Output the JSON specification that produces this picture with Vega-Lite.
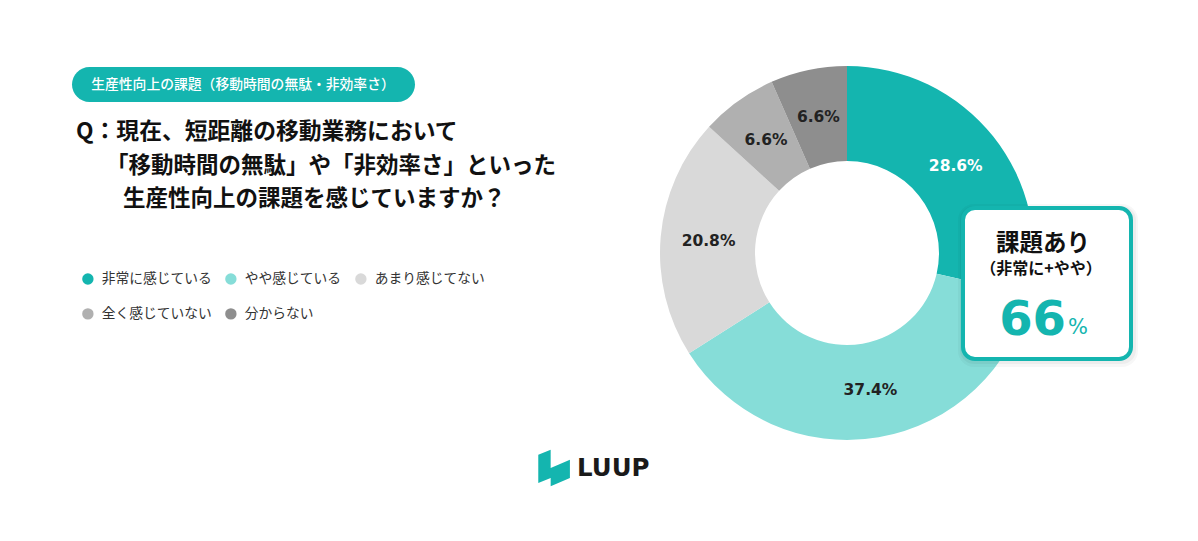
{
  "$schema": "https://vega.github.io/schema/vega-lite/v6.json",
  "width": 1198,
  "height": 541,
  "padding": 0,
  "autosize": {"type": "fit", "contains": "padding"},
  "background": "#ffffff",
  "config": {"view": {"stroke": null}, "font": "Noto Sans CJK JP"},
  "data": {
    "values": [
      {"category": "非常に感じている", "share": 0.286, "rank": 1},
      {"category": "やや感じている", "share": 0.374, "rank": 2},
      {"category": "あまり感じてない", "share": 0.208, "rank": 3},
      {"category": "全く感じていない", "share": 0.066, "rank": 4},
      {"category": "分からない", "share": 0.066, "rank": 5}
    ]
  },
  "layer": [
    {
      "data": {"values": [{}]},
      "mark": {"type": "rect", "x": 72, "x2": 415, "y": 67, "y2": 102, "cornerRadius": 17.5, "fill": "#14b5af"}
    },
    {
      "data": {"values": [{}]},
      "mark": {"type": "text", "text": "生産性向上の課題（移動時間の無駄・非効率さ）", "x": 243, "y": 85, "align": "center", "baseline": "middle", "fontSize": 13.8, "fontWeight": 500, "color": "#ffffff", "font": "Noto Sans CJK JP"}
    },
    {
      "data": {"values": [{}]},
      "mark": {"type": "text", "text": "Q：現在、短距離の移動業務において", "x": 76, "y": 132, "align": "left", "baseline": "middle", "fontSize": 22.8, "fontWeight": "bold", "color": "#111111", "font": "Noto Sans CJK JP"}
    },
    {
      "data": {"values": [{}]},
      "mark": {"type": "text", "text": "「移動時間の無駄」や「非効率さ」といった", "x": 106, "y": 166, "align": "left", "baseline": "middle", "fontSize": 22.5, "fontWeight": "bold", "color": "#111111", "font": "Noto Sans CJK JP"}
    },
    {
      "data": {"values": [{}]},
      "mark": {"type": "text", "text": "生産性向上の課題を感じていますか？", "x": 123, "y": 199, "align": "left", "baseline": "middle", "fontSize": 22.5, "fontWeight": "bold", "color": "#111111", "font": "Noto Sans CJK JP"}
    },
    {
      "mark": {"type": "arc", "x": 847, "y": 253, "outerRadius": 187, "innerRadius": 92, "stroke": null},
      "encoding": {
        "theta": {"field": "share", "type": "quantitative", "stack": true},
        "order": {"field": "rank", "type": "quantitative"},
        "color": {
          "field": "category",
          "type": "nominal",
          "scale": {
            "domain": ["非常に感じている", "やや感じている", "あまり感じてない", "全く感じていない", "分からない"],
            "range": ["#14b5af", "#86ddd8", "#d9d9d9", "#b0b0b0", "#8e8e8e"]
          },
          "legend": {
            "orient": "none",
            "legendX": 81,
            "legendY": 272,
            "direction": "horizontal",
            "columns": 3,
            "title": null,
            "padding": 0,
            "symbolType": "circle",
            "symbolSize": 130,
            "symbolStrokeWidth": 0,
            "symbolOpacity": 1,
            "labelFont": "Noto Sans CJK JP",
            "labelFontSize": 13.75,
            "labelColor": "#333333",
            "labelOffset": 7,
            "rowPadding": 20,
            "columnPadding": 12
          }
        }
      }
    },
    {
      "mark": {"type": "text", "x": 847, "y": 253, "radius": 139, "fontSize": 15.5, "fontWeight": "bold", "font": "DejaVu Sans", "align": "center", "baseline": "middle"},
      "encoding": {
        "theta": {"field": "share", "type": "quantitative", "stack": true},
        "order": {"field": "rank", "type": "quantitative"},
        "text": {"field": "share", "type": "quantitative", "format": ".1%"},
        "color": {
          "condition": {"test": "datum.rank === 1", "value": "#ffffff"},
          "value": "#222222"
        }
      }
    },
    {
      "data": {"values": [{}]},
      "mark": {"type": "rect", "x": 958, "x2": 1138, "y": 204, "y2": 367, "cornerRadius": 16, "fill": "#000000", "opacity": 0.03}
    },
    {
      "data": {"values": [{}]},
      "mark": {"type": "rect", "x": 960, "x2": 1136, "y": 206, "y2": 364, "cornerRadius": 14, "fill": "#000000", "opacity": 0.04}
    },
    {
      "data": {"values": [{}]},
      "mark": {"type": "rect", "x": 963, "x2": 1131, "y": 208, "y2": 359, "cornerRadius": 12, "fill": "#ffffff", "stroke": "#14b5af", "strokeWidth": 4}
    },
    {
      "data": {"values": [{}]},
      "mark": {"type": "text", "text": "課題あり", "x": 1043, "y": 244, "align": "center", "baseline": "middle", "fontSize": 23.5, "fontWeight": "bold", "color": "#111111", "font": "Noto Sans CJK JP"}
    },
    {
      "data": {"values": [{}]},
      "mark": {"type": "text", "text": "（非常に+やや）", "x": 1041, "y": 269, "align": "center", "baseline": "middle", "fontSize": 16, "fontWeight": "bold", "color": "#111111", "font": "Noto Sans CJK JP"}
    },
    {
      "data": {"values": [{}]},
      "mark": {"type": "text", "text": "66", "x": 1066, "y": 335, "align": "right", "baseline": "alphabetic", "fontSize": 48, "fontWeight": "bold", "color": "#14b5af", "font": "DejaVu Sans"}
    },
    {
      "data": {"values": [{}]},
      "mark": {"type": "text", "text": "%", "x": 1068, "y": 334, "align": "left", "baseline": "alphabetic", "fontSize": 21, "fontWeight": "normal", "color": "#14b5af", "font": "DejaVu Sans"}
    },
    {
      "data": {"values": [{}]},
      "mark": {
        "type": "point",
        "x": 554,
        "y": 468,
        "size": 1369,
        "filled": true,
        "opacity": 1,
        "strokeWidth": 0,
        "color": "#14b5af",
        "shape": "M-0.85,-0.72 L-0.18,-0.99 L-0.18,0 L0.23,-0.18 L0.86,-0.45 L0.86,0.54 L-0.18,0.99 L-0.18,0.54 L-0.85,0.81 Z"
      }
    },
    {
      "data": {"values": [{}]},
      "mark": {"type": "text", "text": "LUUP", "x": 577, "y": 469, "align": "left", "baseline": "middle", "fontSize": 24.5, "fontWeight": "bold", "color": "#1a1a1a", "font": "DejaVu Sans"}
    }
  ]
}
